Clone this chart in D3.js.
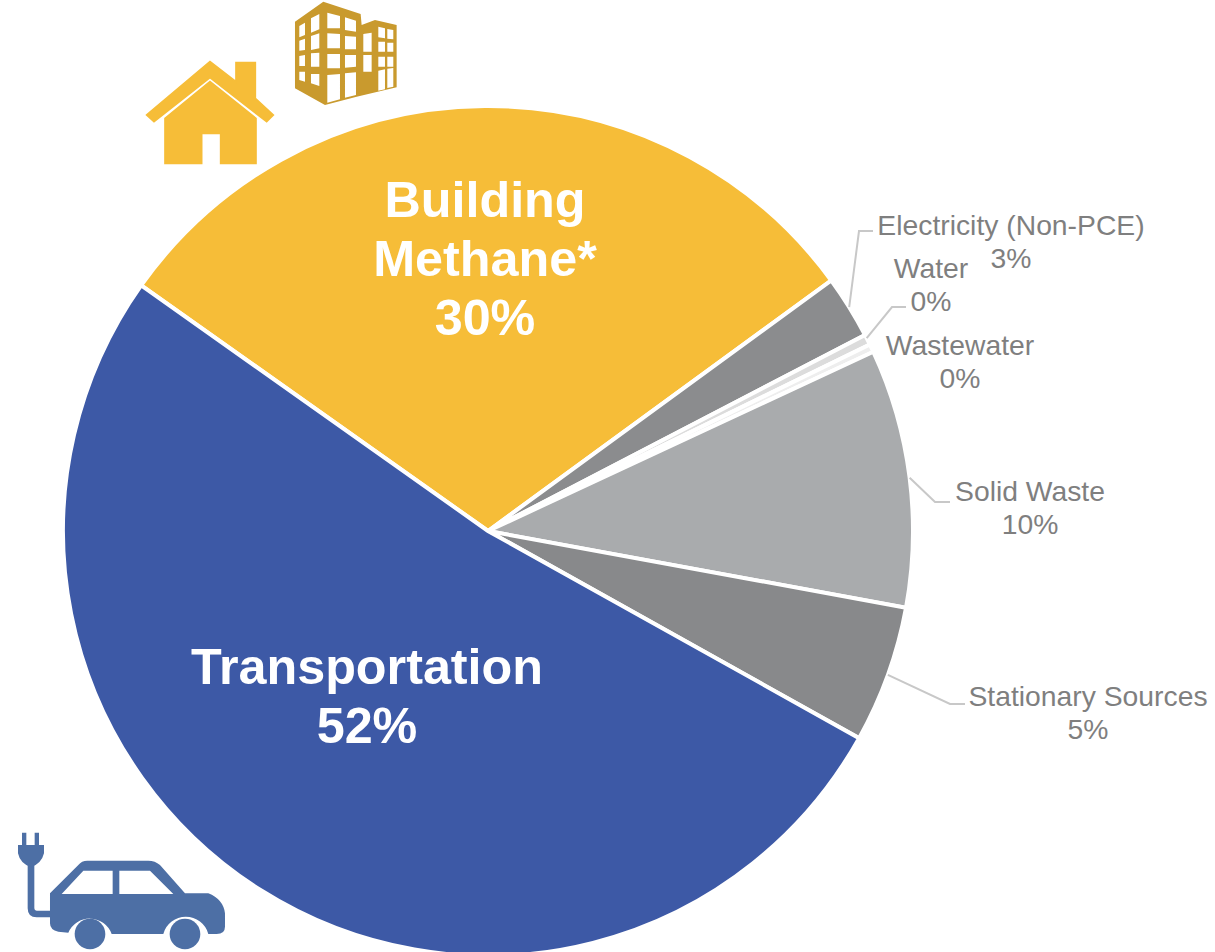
<!DOCTYPE html>
<html>
<head>
<meta charset="utf-8">
<script src="https://cdn.jsdelivr.net/npm/d3@7"></script>
<style>
  html, body { margin: 0; padding: 0; background: #fff; }
  svg { display: block; }
  text { font-family: "Liberation Sans", Arial, sans-serif; }
</style>
</head>
<body>
<script>
// Chart data
const categories = ['Building Methane*', 'Electricity (Non-PCE)', 'Water', 'Wastewater', 'Solid Waste', 'Stationary Sources', 'Transportation'];
const shares = [30.1, 2.4, 0.4, 0.3, 9.8, 5.2, 51.6];
const shownPercents = ['30%', '3%', '0%', '0%', '10%', '5%', '52%'];
const sliceColors = ['#f6bd38', '#8b8c8e', '#dcdcdc', '#eeeeee', '#a9abad', '#88898b', '#3d59a6'];

const width = 1215, height = 952;
const center = { x: 488, y: 531 }, radius = 425;

// Small labels: text centre and first baseline, leader from slice edge via elbow to text
const outerLabels = {
  'Electricity (Non-PCE)': { x: 1011, y: 235, lineAt: 58.2, elbow: [859, 231], end: [873, 231] },
  'Water': { x: 931, y: 278, lineAt: 63, elbow: [892, 307], end: [906, 307] },
  'Wastewater': { x: 960, y: 355, lines: false },
  'Solid Waste': { x: 1030, y: 501, lineAt: 82.8, elbow: [935, 502], end: [950, 502] },
  'Stationary Sources': { x: 1088, y: 706, lineAt: 109.8, elbow: [950, 704], end: [965, 704] }
};

const svg = d3.select('body').append('svg')
  .attr('width', width)
  .attr('height', height);

const g = svg.append('g')
  .attr('transform', `translate(${center.x},${center.y})`);

const rad = deg => deg * Math.PI / 180;

const pie = d3.pie()
  .sort(null)
  .startAngle(rad(-54.7))
  .endAngle(rad(305.3));

const arc = d3.arc().innerRadius(0).outerRadius(radius);

const arcs = pie(shares);

g.selectAll('.slice')
  .data(arcs)
  .enter().append('path')
  .attr('class', 'slice')
  .attr('d', arc)
  .style('fill', (d, i) => sliceColors[i])
  .style('stroke', '#fff')
  .style('stroke-width', 4);

// Leader lines, starting on the rim of the pie
categories.forEach(name => {
  const lab = outerLabels[name];
  if (!lab || lab.lines === false) return;
  const a = rad(lab.lineAt);
  const start = [center.x + radius * Math.sin(a), center.y - radius * Math.cos(a)];
  svg.append('path')
    .attr('d', d3.line()([start, lab.elbow, lab.end]))
    .style('fill', 'none')
    .style('stroke', '#c8c8c8')
    .style('stroke-width', 2);
});

// Small grey labels
categories.forEach((name, i) => {
  const lab = outerLabels[name];
  if (!lab) return;
  const t = svg.append('text')
    .attr('text-anchor', 'middle')
    .style('font-size', '28.3px')
    .style('fill', '#7f7f7f');
  t.append('tspan').attr('x', lab.x).attr('y', lab.y).text(name);
  t.append('tspan').attr('x', lab.x).attr('y', lab.y + 33).text(shownPercents[i]);
});

// Big white labels inside the two large slices
function bigLabel(lines, x, y) {
  const t = svg.append('text')
    .attr('text-anchor', 'middle')
    .style('font-size', '50.3px')
    .style('font-weight', 'bold')
    .style('fill', '#fff');
  lines.forEach((line, i) => {
    t.append('tspan').attr('x', x).attr('y', y + i * 59).text(line);
  });
}
bigLabel(['Building', 'Methane*', shownPercents[0]], 485, 217);
bigLabel([categories[6], shownPercents[6]], 367, 684);

// House icon, drawn in 3x crop units
const house = svg.append('g')
  .attr('transform', 'translate(130,0) scale(0.3333)')
  .style('fill', '#f6bd38')
  .style('stroke', '#f6bd38')
  .style('stroke-width', 5);
house.append('path').attr('d', 'M105,490V355L240,245L378,355V490H272V400H215V490Z');
house.append('path').attr('d', 'M50,345L240,185L318,245V188H376V295L430,345L410,365L240,233L72,365Z');

// Office block icon
const block = svg.append('g').attr('transform', 'translate(130,0) scale(0.3333)');
block.append('path')
  .attr('d', 'M495,65L580,5L692,42L695,75L735,60L800,75V262L680,290L585,315L495,265Z')
  .style('fill', '#c99a2e');
const blockWindows = 'M508,78L525,68V105L508,112Z M543,55L568,42V88L543,98Z M508,122L525,116V150L508,152Z M543,108L568,100V145L543,150Z M508,168L525,165V198L508,198Z M543,160L568,158V200L543,200Z M508,215L525,215V245L508,240Z M543,222L568,222V258L543,250Z '
  + 'M592,38L630,48V85L592,85Z M645,52L678,62V95L645,90Z M592,100L630,102V145L592,145Z M645,108L678,110V148L645,148Z M592,162L630,162V205L592,205Z M645,165L678,165V200L645,203Z M592,225L630,222V298L592,308Z M645,220L678,217V285L645,293Z '
  + 'M700,102L725,98V155L700,155Z M700,165L725,165V215L700,215Z M745,80L765,85V115L745,112Z M772,87L790,90V118L772,116Z M745,125L765,125V155L745,155Z M772,128L790,128V155L772,155Z M745,170L765,170V200L745,200Z M772,170L790,170V200L772,200Z M745,212L765,208V268L745,272Z M772,206L790,204V260L772,264Z';
block.append('path').attr('d', blockWindows).style('fill', '#fff');

// Plug-in car icon
const car = svg.append('g')
  .attr('transform', 'translate(0,810) scale(0.3333)')
  .style('fill', '#4d6fa5');
car.append('path')
  .attr('d', 'M93,165V295Q93,312 110,312H155')
  .style('fill', 'none')
  .style('stroke', '#4d6fa5')
  .style('stroke-width', 20);
car.append('path').attr('d', 'M66,68H79V105H104V68H117V105H132V130Q125,160 93,172Q60,160 54,130V105H66Z');
car.append('path')
  .attr('d', 'M150,250L235,165Q245,152 262,152H445Q465,152 480,165L555,250H625Q670,268 675,310V350Q675,372 650,372H625A70,70 0 0 0 490,372H335A70,70 0 0 0 205,368L175,365Q150,360 150,340Z');
car.append('path')
  .attr('d', 'M185,252L250,182H338V252Z M358,182H450L520,252H358Z')
  .style('fill', '#fff');
car.selectAll('.wheel')
  .data([270, 555])
  .enter().append('circle')
  .attr('class', 'wheel')
  .attr('cx', d => d)
  .attr('cy', 372)
  .attr('r', 46);
</script>
</body>
</html>
